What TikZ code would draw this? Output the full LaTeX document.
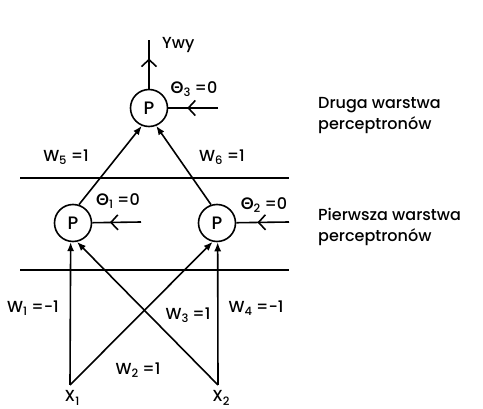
\documentclass[tikz,border=0pt]{standalone}
\usepackage{fontspec}
\setmainfont{Poppins}[BoldFont={Poppins Medium}]
\newfontfamily\grk{Lato}
\usetikzlibrary{arrows.meta,decorations.markings}
\newcommand\lo[1]{\raisebox{-0.4ex}{\fontsize{11.5}{11.5}\selectfont #1}}
\newcommand\Th{{\grk\bfseries Θ}}
\tikzset{
  neuron/.style={circle,draw,line width=1.6pt,minimum size=37pt,inner sep=0pt,font=\fontsize{18}{18}\selectfont\bfseries},
  lbl/.style={font=\fontsize{16}{16}\selectfont\bfseries,inner sep=0pt},
  wire/.style={line width=1.6pt},
  inarrow/.style={wire,-{Latex[length=9pt,width=7pt]}},
  midarrow/.style={wire,postaction={decorate},decoration={markings,mark=at position #1 with {\arrow{Straight Barb[length=7pt,width=15pt,line width=1.6pt]}}}}
}
\begin{document}
\begin{tikzpicture}[x=1pt,y=-1pt]
\useasboundingbox (0,0) rectangle (483,409);
% separator lines
\coordinate (h1a) at (20,178); \coordinate (h1b) at (289,178);
\coordinate (h2a) at (20,270); \coordinate (h2b) at (289,270);
\draw[wire] (h1a) -- (h1b);
\draw[wire] (h2a) -- (h2b);
% neurons
\node[neuron] (P3) at (149,108) {P};
\node[neuron] (P1) at (73,223) {P};
\node[neuron] (P2) at (217,223) {P};
% output
\coordinate (out) at (149,40);
\draw[midarrow=0.62] (P3) -- (out);
\node[lbl,anchor=west] (ywy) at (162,45) {Ywy};
% thresholds
\coordinate (t3) at (218,108);
\coordinate (t1) at (141,222);
\coordinate (t2) at (289,222);
\draw[midarrow=0.62] (t3) -- (P3);
\draw[midarrow=0.64] (t1) -- (P1);
\draw[midarrow=0.6] (t2) -- (P2);
\node[lbl] (th3) at (194,89) {\Th\lo{3} =0};
\node[lbl] (th1) at (118,201) {\Th\lo{1} =0};
\node[lbl] (th2) at (264,205) {\Th\lo{2} =0};
% hidden to output
\draw[inarrow] (P1.72) -- (P3.-112);
\draw[inarrow] (P2.108) -- (P3.-68);
\node[lbl] (w5) at (66,157) {W\lo{5} =1};
\node[lbl] (w6) at (222,157) {W\lo{6} =1};
% inputs
\coordinate (in1) at (70,385);
\coordinate (in2) at (218,385);
\node[lbl] (x1) at (72,398) {X\lo{1}};
\node[lbl] (x2) at (221,398) {X\lo{2}};
\draw[inarrow] (in1) -- (P1.-97);
\draw[inarrow] (in2) -- (P1.-78);
\draw[inarrow] (in2) -- (P2.-88);
\draw[inarrow] (in1) -- (P2.-103);
\node[lbl] (w1) at (33,308) {W\lo{1} =-1};
\node[lbl] (w3) at (188,315) {W\lo{3} =1};
\node[lbl] (w4) at (256,308) {W\lo{4} =-1};
\node[lbl] (w2) at (138,370) {W\lo{2} =1};
% layer names
\node[lbl,anchor=west,align=left,font=\fontsize{16}{21}\selectfont\bfseries] (l2) at (318,116) {Druga warstwa\\perceptronów};
\node[lbl,anchor=west,align=left,font=\fontsize{16}{21}\selectfont\bfseries] (l1) at (318,227) {Pierwsza warstwa\\perceptronów};
\end{tikzpicture}
\end{document}
